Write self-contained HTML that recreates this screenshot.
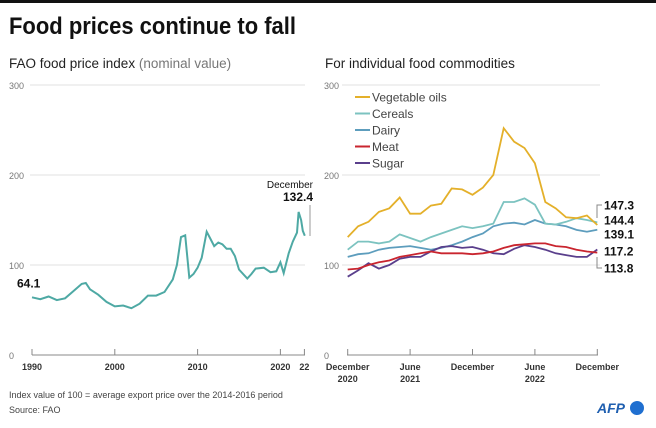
<!DOCTYPE html>
<html><head><meta charset="utf-8"><style>
body{margin:0;background:#fff;font-family:"Liberation Sans",sans-serif;}
svg text{font-family:"Liberation Sans",sans-serif;}
</style></head><body>
<svg width="656" height="423" viewBox="0 0 656 423">
<rect x="0" y="0" width="656" height="3" fill="#111"/>
<text x="9" y="34" font-size="24" font-weight="bold" fill="#111" textLength="287" lengthAdjust="spacingAndGlyphs">Food prices continue to fall</text>
<text x="9" y="68" font-size="13.5" fill="#222">FAO food price index <tspan fill="#777">(nominal value)</tspan></text>
<text x="325" y="68" font-size="13.5" fill="#222">For individual food commodities</text>
<g id="left"></g>
<g id="right"></g>
<text x="9" y="398" font-size="9" fill="#444">Index value of 100 = average export price over the 2014-2016 period</text>
<text x="9" y="413" font-size="9" fill="#444">Source: FAO</text>
<text x="597" y="413" font-size="14" font-weight="bold" font-style="italic" fill="#1f5fb0">AFP</text>
<circle cx="637" cy="408" r="7" fill="#1f6fd0"/>
</svg>
<script>
const NS="http://www.w3.org/2000/svg";
const yTicks=[0,100,200,300];
const leftYears=[1990,1991,1992,1993,1994,1995,1996,1996.5,1997,1998,1999,2000,2001,2002,2003,2004,2005,2006,2007,2007.5,2008,2008.5,2009,2009.5,2010,2010.5,2011.1,2011.5,2012,2012.5,2013,2013.5,2014,2014.5,2015,2016,2016.5,2017,2018,2018.8,2019.5,2020,2020.4,2021,2021.5,2022,2022.2,2022.5,2022.7,2022.95];
const leftValues=[64.1,62,65,61,63,71,79,80,73,67,59,54,55,52,57,66,66,70,84,100,131,133,86,90,97,108,137,130,121,125,123,118,118,110,95,85,90,96,97,92,93,103,91,113,126,136,159,150,138,132.4];
const leftXTicks=[1990,2000,2010,2020,2022.9];
const leftXLabels=["1990","2000","2010","2020","22"];
const months=["Dec20","Jan21","Feb21","Mar21","Apr21","May21","Jun21","Jul21","Aug21","Sep21","Oct21","Nov21","Dec21","Jan22","Feb22","Mar22","Apr22","May22","Jun22","Jul22","Aug22","Sep22","Oct22","Nov22","Dec22"];
const vegOils=[131,143,148,159,163,175,157,157,166,168,185,184,178,186,200,252,237,230,213,170,163,153,152,155,144.4];
const cereals=[117,126,126,124,126,134,130,126,131,135,139,143,141,143,146,170,170,174,167,146,145,148,152,150,147.3];
const dairy=[109,112,113,117,119,120,121,119,117,119,122,126,131,135,143,146,147,145,150,146,145,143,139,137,139.1];
const meat=[95,96,100,103,105,109,111,113,115,113,113,113,112,113,115,119,122,123,124,124,121,120,117,115,113.8];
const sugar=[87,94,102,96,100,107,109,109,115,120,121,119,120,117,113,112,118,122,120,117,113,111,109,109,117.2];
const seriesNames=["Vegetable oils","Cereals","Dairy","Meat","Sugar"];
const seriesColors=["#e4b02a","#7cc3c0","#5d9dbd","#c9252f","#5a3f8c"];
const rightXTicks=[0,6,12,18,24];
const rightXLabels=[["December","2020"],["June","2021"],["December",""],["June","2022"],["December",""]];
const endLabels=["147.3","144.4","139.1","117.2","113.8"];

function mk(tag,attrs,parent){const e=document.createElementNS(NS,tag);for(const k in attrs)e.setAttribute(k,attrs[k]);parent.appendChild(e);return e;}
const yS=v=>355-v*0.9;
const L=document.getElementById('left');
const lx=yr=>32+(yr-1990)*8.28;
yTicks.forEach(t=>{
  if(t>0){const g=mk('line',{x1:30,x2:305,y1:yS(t),y2:yS(t),stroke:'#e0e0e0','stroke-width':1},L);
  
  }
  const tx=mk('text',{x:9,y:yS(t)+4,'font-size':9,fill:'#777'},L);tx.textContent=t;
  
  
});
const la=mk('line',{x1:32,x2:305,y1:355,y2:355,stroke:'#888','stroke-width':1},L);


leftXTicks.forEach((t,i)=>{
  const tk=mk('line',{x1:lx(t),x2:lx(t),y1:349,y2:355,stroke:'#888'},L);
  
  
  const tx=mk('text',{x:lx(t),y:370,'font-size':9,'font-weight':'bold','text-anchor':'middle',fill:'#333'},L);tx.textContent=leftXLabels[i];
  
  
});
const lp=mk('path',{d:leftYears.map((y,i)=>(i?'L':'M')+lx(y).toFixed(1)+','+yS(leftValues[i]).toFixed(1)).join(''),fill:'none',stroke:'#4ea9a4','stroke-width':2},L);


const st=mk('text',{x:17,y:yS(leftValues[0])-10,'font-size':12,'font-weight':'bold',fill:'#111'},L);st.textContent='64.1';


const d1=mk('text',{x:313,y:188,'font-size':10,'text-anchor':'end',fill:'#111'},L);d1.textContent='December';


const d2=mk('text',{x:313,y:201,'font-size':12,'font-weight':'bold','text-anchor':'end',fill:'#111'},L);d2.textContent='132.4';


const bl=mk('line',{x1:310,x2:310,y1:205,y2:236,stroke:'#999'},L);


const R=document.getElementById('right');
const rx=i=>347.7+i*10.4;
yTicks.forEach(t=>{
  if(t>0){const g=mk('line',{x1:342,x2:600,y1:yS(t),y2:yS(t),stroke:'#e0e0e0'},R);
  
  }
  const tx=mk('text',{x:324,y:yS(t)+4,'font-size':9,fill:'#777'},R);tx.textContent=t;
  
  
});
const ra=mk('line',{x1:347,x2:598,y1:355,y2:355,stroke:'#888'},R);


rightXTicks.forEach((t,i)=>{
  const tk=mk('line',{x1:rx(t),x2:rx(t),y1:349,y2:355,stroke:'#888'},R);
  
  
  const tx=mk('text',{x:rx(t),y:370,'font-size':9,'font-weight':'bold','text-anchor':'middle',fill:'#333'},R);tx.textContent=rightXLabels[i][0];
  
  
  const ty=mk('text',{x:rx(t),y:382,'font-size':9,'font-weight':'bold','text-anchor':'middle',fill:'#333'},R);ty.textContent=rightXLabels[i][1];
  
  
});
const allSeries=[vegOils,cereals,dairy,meat,sugar];
const drawOrder=[2,1,4,3,0];
drawOrder.forEach(s=>{
  const p=mk('path',{d:allSeries[s].map((v,i)=>(i?'L':'M')+rx(i).toFixed(1)+','+yS(v).toFixed(1)).join(''),fill:'none',stroke:seriesColors[s],'stroke-width':1.8},R);
  
  
});
seriesNames.forEach((n,i)=>{
  const y=97+i*16.5;
  const l=mk('line',{x1:355,x2:370,y1:y,y2:y,stroke:seriesColors[i],'stroke-width':2},R);
  
  
  const t=mk('text',{x:372,y:y+4.5,'font-size':12,fill:'#444'},R);t.textContent=n;
  
  
});
const labY=[205,220,234,251,268];
endLabels.forEach((s,i)=>{
  const t=mk('text',{x:604,y:labY[i]+4.5,'font-size':12,'font-weight':'bold',fill:'#111'},R);t.textContent=s;
  
  
});
const b1=mk('path',{d:'M602,205H597V218',fill:'none',stroke:'#888'},R);


const b2=mk('path',{d:'M597,257V268H602',fill:'none',stroke:'#888'},R);


</script>
</body></html>
